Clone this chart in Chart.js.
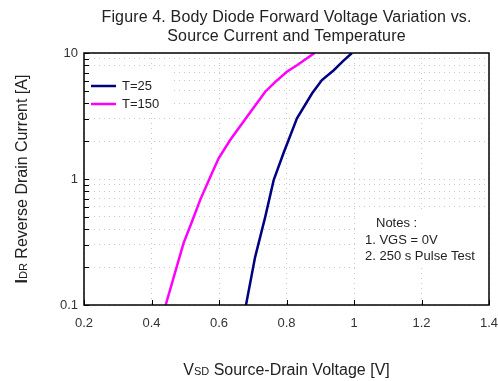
<!DOCTYPE html>
<html>
<head>
<meta charset="utf-8">
<script src="https://cdn.jsdelivr.net/npm/chart.js@4/dist/chart.umd.min.js"></script>
<style>
  html, body { margin: 0; padding: 0; background: #fff; }
  #wrap { width: 498px; height: 381px; }
</style>
</head>
<body>
<div id="wrap"><canvas id="chart"></canvas></div>
<script>
// data
var volt25 = [0.68, 0.707, 0.737, 0.762, 0.791, 0.831, 0.876, 0.905, 0.94, 0.969, 0.994];
var curr25 = [0.1, 0.24, 0.5, 0.98, 1.6, 3.03, 4.79, 6.1, 7.3, 8.7, 10];
var volt150 = [0.442, 0.495, 0.52, 0.544, 0.579, 0.599, 0.633, 0.683, 0.737, 0.767, 0.801, 0.831, 0.883];
var curr150 = [0.1, 0.31, 0.46, 0.68, 1.11, 1.46, 2.04, 3.12, 4.93, 5.9, 7.1, 8.0, 10];
var xTicks = [0.2, 0.4, 0.6, 0.8, 1, 1.2, 1.4];
var yTicks = [0.1, 0.2, 0.3, 0.4, 0.5, 0.6, 0.7, 0.8, 0.9, 1, 2, 3, 4, 5, 6, 7, 8, 9, 10];
var yLabels = [0.1, 1, 10];
var titleLines = ["Figure 4. Body Diode Forward Voltage Variation vs.", "Source Current and Temperature"];
var notesLines = ["Notes :", "1. VGS = 0V", "2. 250 s Pulse Test"];

function toPoints(xs, ys) {
  var pts = [];
  for (var i = 0; i < xs.length; i++) pts.push({x: xs[i], y: ys[i]});
  return pts;
}

var FONT = "'Liberation Sans', Arial, sans-serif";

// frame, inward ticks, title, legend, notes, axis titles
var decorPlugin = {
  id: "decor",
  afterDatasetsDraw: function(chart) {
    var ctx = chart.ctx;
    var a = chart.chartArea;
    var xs = chart.scales.x, ys = chart.scales.y;
    ctx.save();

    // legend box
    ctx.fillStyle = "#fff";
    ctx.fillRect(86, 69, 84, 44);
    ctx.lineWidth = 2.5;
    ctx.strokeStyle = "#000080";
    ctx.beginPath(); ctx.moveTo(91, 86); ctx.lineTo(116, 86); ctx.stroke();
    ctx.strokeStyle = "#ff00ff";
    ctx.beginPath(); ctx.moveTo(91, 104); ctx.lineTo(116, 104); ctx.stroke();
    ctx.fillStyle = "#222";
    ctx.font = "13px " + FONT;
    ctx.textBaseline = "middle";
    ctx.textAlign = "left";
    ctx.fillText("T=25", 122, 86);
    ctx.fillText("T=150", 122, 104);

    // notes box
    ctx.fillStyle = "#fff";
    ctx.fillRect(356, 212, 130, 56);
    ctx.fillStyle = "#222";
    ctx.fillText(notesLines[0], 376, 223);
    ctx.fillText(notesLines[1], 365, 240);
    ctx.fillText(notesLines[2], 365, 256);

    // frame
    ctx.strokeStyle = "#000";
    ctx.lineWidth = 1.5;
    ctx.strokeRect(a.left, a.top, a.right - a.left, a.bottom - a.top);

    // inward ticks
    ctx.lineWidth = 1;
    ctx.beginPath();
    yTicks.forEach(function(v) {
      var py = Math.round(ys.getPixelForValue(v)) + 0.5;
      ctx.moveTo(a.left, py); ctx.lineTo(a.left + 5, py);
    });
    xTicks.forEach(function(v) {
      var px = Math.round(xs.getPixelForValue(v)) + 0.5;
      ctx.moveTo(px, a.bottom); ctx.lineTo(px, a.bottom - 5);
    });
    ctx.stroke();

    // title
    var cx = (a.left + a.right) / 2;
    ctx.fillStyle = "#222";
    ctx.font = "16px " + FONT;
    ctx.letterSpacing = "0.15px";
    ctx.textAlign = "center";
    ctx.textBaseline = "alphabetic";
    ctx.fillText(titleLines[0], cx, 22);
    ctx.fillText(titleLines[1], cx, 41);
    ctx.letterSpacing = "0px";

    // x axis title: VSD Source-Drain Voltage [V]
    var bigF = "16px " + FONT, smallF = "11px " + FONT;
    var parts = [["V", bigF], ["SD", smallF], [" Source-Drain Voltage [V]", bigF]];
    var w = 0;
    parts.forEach(function(p) { ctx.font = p[1]; w += ctx.measureText(p[0]).width; });
    var x0 = cx - w / 2;
    ctx.textAlign = "left";
    parts.forEach(function(p) { ctx.font = p[1]; ctx.fillText(p[0], x0, 375); x0 += ctx.measureText(p[0]).width; });

    // y axis title: IDR Reverse Drain Current [A]
    var yparts = [["I", "bold 16px " + FONT], ["DR", smallF], [" Reverse Drain Current [A]", bigF]];
    w = 0;
    yparts.forEach(function(p) { ctx.font = p[1]; w += ctx.measureText(p[0]).width; });
    ctx.translate(27, (a.top + a.bottom) / 2);
    ctx.rotate(-Math.PI / 2);
    x0 = -w / 2;
    yparts.forEach(function(p) { ctx.font = p[1]; ctx.fillText(p[0], x0, 0); x0 += ctx.measureText(p[0]).width; });

    ctx.restore();
  }
};

var gridStyle = { color: "#c8c8c8", lineWidth: 1, drawTicks: false };

new Chart(document.getElementById("chart"), {
  type: "line",
  data: {
    datasets: [
      { label: "T=25", data: toPoints(volt25, curr25), borderColor: "#000080", borderWidth: 2.5, pointRadius: 0, tension: 0 },
      { label: "T=150", data: toPoints(volt150, curr150), borderColor: "#ff00ff", borderWidth: 2.5, pointRadius: 0, tension: 0 }
    ]
  },
  options: {
    responsive: true,
    maintainAspectRatio: false,
    animation: false,
    layout: { padding: { top: 53, right: 9, left: 0, bottom: 0 } },
    plugins: { legend: { display: false }, title: { display: false }, tooltip: { enabled: false } },
    scales: {
      x: {
        type: "linear", min: 0.2, max: 1.4,
        afterBuildTicks: function(s) { s.ticks = xTicks.map(function(v) { return {value: v}; }); },
        afterFit: function(s) { s.height = 76; s.paddingLeft = 0; s.paddingRight = 0; },
        grid: gridStyle,
        border: { display: false, dash: [1, 4] },
        ticks: { color: "#333", font: { size: 13, family: FONT }, padding: 11, maxRotation: 0,
          callback: function(v) { return String(Math.round(v * 10) / 10); } }
      },
      y: {
        type: "logarithmic", min: 0.1, max: 10,
        afterBuildTicks: function(s) { s.ticks = yTicks.map(function(v) { return {value: v}; }); },
        afterFit: function(s) { s.width = 84; s.paddingTop = 0; s.paddingBottom = 0; },
        grid: gridStyle,
        border: { display: false, dash: [1, 4] },
        ticks: { color: "#333", font: { size: 13, family: FONT }, padding: 6, autoSkip: false,
          callback: function(v) { return yLabels.indexOf(v) >= 0 ? String(v) : ""; } }
      }
    }
  },
  plugins: [decorPlugin]
});
</script>
</body>
</html>
